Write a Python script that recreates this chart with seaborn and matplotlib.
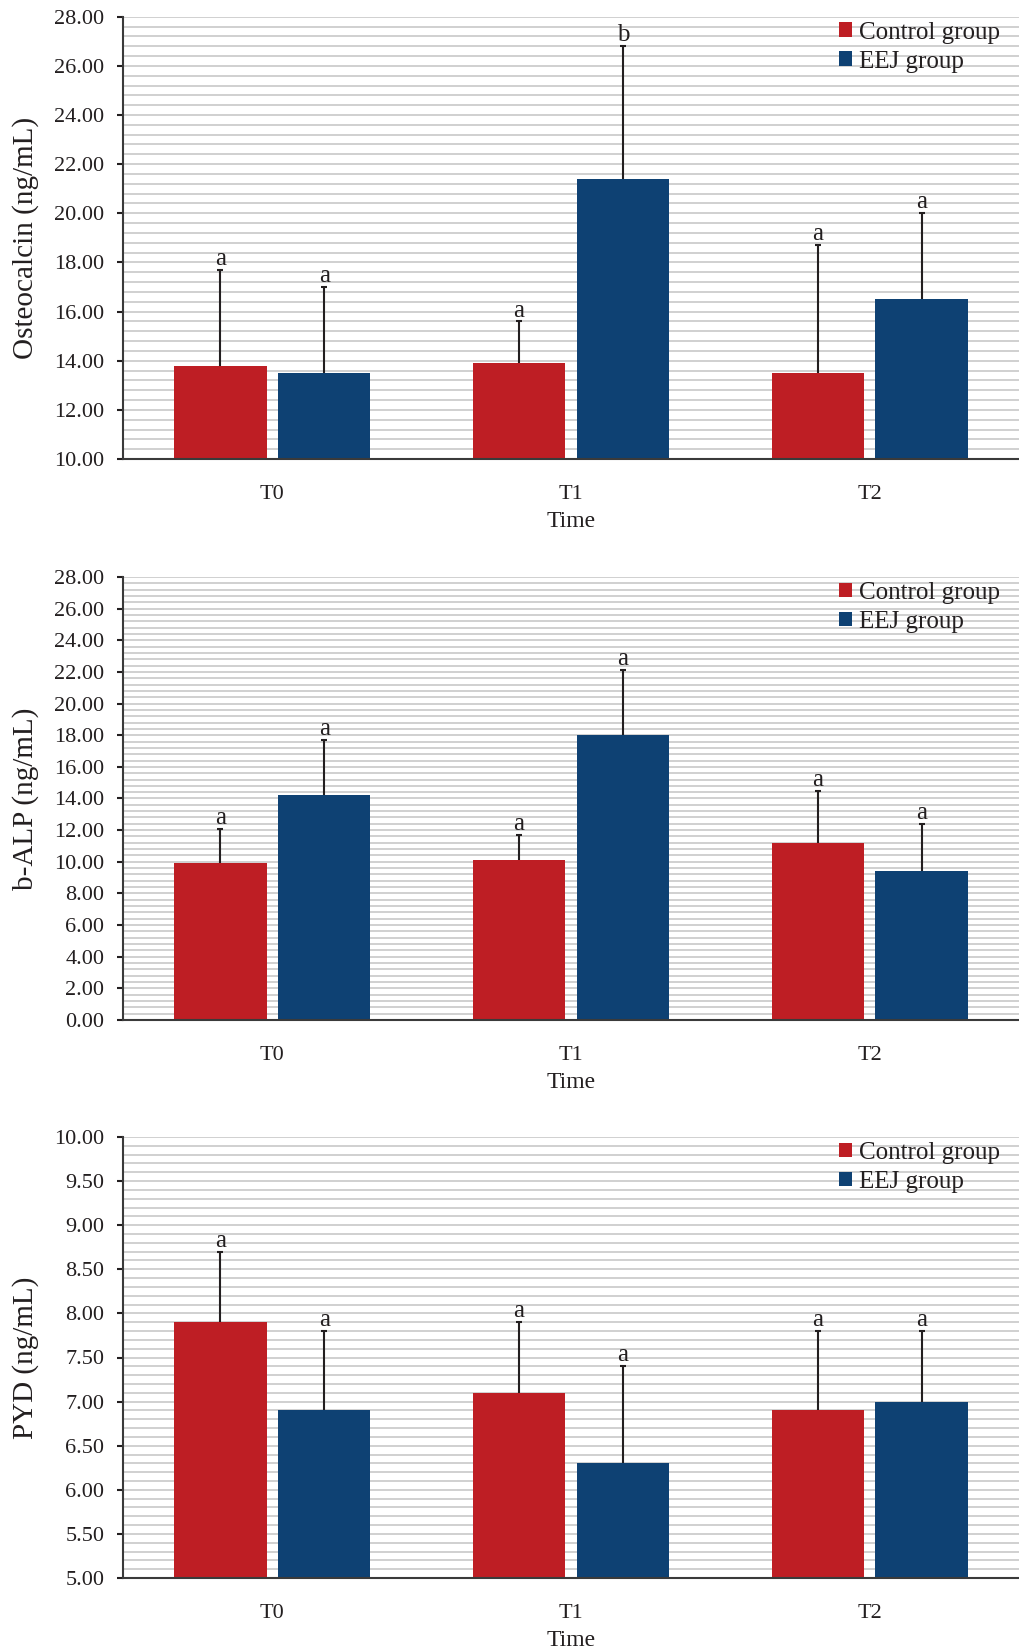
import matplotlib
matplotlib.use("Agg")
import matplotlib.pyplot as plt
from matplotlib.ticker import MultipleLocator, FormatStrFormatter
from matplotlib.patches import Patch
import pandas as pd
import seaborn as sns

# ---- data -------------------------------------------------------------
times = ["T0", "T1", "T2"]
groups = ["Control group", "EEJ group"]

osteocalcin_control = [13.8, 13.9, 13.5]
osteocalcin_eej = [13.5, 21.4, 16.5]
osteocalcin_control_sd = [3.9, 1.7, 5.2]
osteocalcin_eej_sd = [3.5, 5.4, 3.5]
osteocalcin_control_letters = ["a", "a", "a"]
osteocalcin_eej_letters = ["a", "b", "a"]

balp_control = [9.9, 10.1, 11.2]
balp_eej = [14.2, 18.0, 9.4]
balp_control_sd = [2.2, 1.6, 3.3]
balp_eej_sd = [3.5, 4.1, 3.0]
balp_control_letters = ["a", "a", "a"]
balp_eej_letters = ["a", "a", "a"]

pyd_control = [7.9, 7.1, 6.9]
pyd_eej = [6.9, 6.3, 7.0]
pyd_control_sd = [0.8, 0.8, 0.9]
pyd_eej_sd = [0.9, 1.1, 0.8]
pyd_control_letters = ["a", "a", "a"]
pyd_eej_letters = ["a", "a", "a"]

panels = [
    dict(ylabel="Osteocalcin (ng/mL)", ylim=(10, 28), major=2.0, minor=0.4,
         means=(osteocalcin_control, osteocalcin_eej),
         sds=(osteocalcin_control_sd, osteocalcin_eej_sd),
         letters=(osteocalcin_control_letters, osteocalcin_eej_letters)),
    dict(ylabel="b-ALP (ng/mL)", ylim=(0, 28), major=2.0, minor=0.4,
         means=(balp_control, balp_eej),
         sds=(balp_control_sd, balp_eej_sd),
         letters=(balp_control_letters, balp_eej_letters)),
    dict(ylabel="PYD (ng/mL)", ylim=(5, 10), major=0.5, minor=0.1,
         means=(pyd_control, pyd_eej),
         sds=(pyd_control_sd, pyd_eej_sd),
         letters=(pyd_control_letters, pyd_eej_letters)),
]

# ---- style ------------------------------------------------------------
RED = "#BE1E24"
BLUE = "#0E4173"
INK = "#231F20"
GRID = "#C4C4C4"
palette = {groups[0]: RED, groups[1]: BLUE}

sns.set_theme(style="white")
plt.rcParams["font.family"] = ["Liberation Serif", "DejaVu Serif"]
plt.rcParams["text.color"] = INK
plt.rcParams["axes.labelcolor"] = INK
plt.rcParams["xtick.color"] = INK
plt.rcParams["ytick.color"] = INK

fig = plt.figure(figsize=(10.2, 16.5), dpi=100)

# axes boxes in figure fractions: [left, bottom, width, height]
ax_left = 123 / 1020
ax_width = 896 / 1020
boxes = [
    (1 - 459 / 1650, (459 - 16.7) / 1650),
    (1 - 1020 / 1650, (1020 - 577) / 1650),
    (1 - 1578 / 1650, (1578 - 1137) / 1650),
]

for spec, (bottom, height) in zip(panels, boxes):
    ax = fig.add_axes([ax_left, bottom, ax_width, height])

    df = pd.DataFrame({
        "Time": times * 2,
        "Group": [groups[0]] * 3 + [groups[1]] * 3,
        "Value": list(spec["means"][0]) + list(spec["means"][1]),
    })
    sns.barplot(data=df, x="Time", y="Value", hue="Group",
                order=times, hue_order=groups, palette=palette,
                width=0.695, gap=0.11, errorbar=None, legend=False,
                saturation=1, linewidth=0, ax=ax)

    # upper-only SD bars with significance letters
    for container, sds, letters in zip(ax.containers, spec["sds"], spec["letters"]):
        for bar, sd, letter in zip(container, sds, letters):
            xc = bar.get_x() + bar.get_width() / 2
            top = bar.get_height() + bar.get_y()
            eb = ax.errorbar([xc], [top], yerr=[[0], [sd]], fmt="none",
                             ecolor=INK, elinewidth=1.5, capsize=2.2,
                             capthick=1.5, zorder=3)
            # keep only the upper cap
            eb.lines[1][0].set_visible(False)
            ax.annotate(letter, xy=(xc, top + sd), xytext=(0, 3.5),
                        textcoords="offset points", ha="center",
                        va="baseline", fontsize=18, color=INK)

    ax.set_ylim(*spec["ylim"])
    ax.set_xlim(-0.5, 2.5)
    ax.yaxis.set_major_locator(MultipleLocator(spec["major"]))
    ax.yaxis.set_minor_locator(MultipleLocator(spec["minor"]))
    ax.yaxis.set_major_formatter(FormatStrFormatter("%.2f"))
    ax.set_axisbelow(True)
    ax.grid(which="both", axis="y", color=GRID, linewidth=1.1)
    ax.grid(which="both", axis="x", visible=False)

    for side in ("top", "right"):
        ax.spines[side].set_visible(False)
    for side in ("left", "bottom"):
        ax.spines[side].set_color("#3A3A3A")
        ax.spines[side].set_linewidth(1.5)

    ax.tick_params(axis="y", which="major", direction="out", length=4.5,
                   width=1.5, pad=9, labelsize=16, left=True)
    ax.tick_params(axis="y", which="minor", length=0)
    ax.tick_params(axis="x", length=0, pad=18.5, labelsize=16)

    ax.set_xlabel("Time", fontsize=17, labelpad=5)
    ax.set_ylabel(spec["ylabel"], fontsize=21)
    ax.yaxis.set_label_coords(-0.0937, 0.5)

    handles = [Patch(facecolor=palette[g], edgecolor="none", label=g) for g in groups]
    ax.legend(handles=handles, loc="upper left", bbox_to_anchor=(0.799, 0.989),
              frameon=False, fontsize=18, handlelength=0.51, handleheight=0.51,
              handletextpad=0.3, labelspacing=0.28, borderpad=0,
              borderaxespad=0)

fig.savefig("out.png", dpi=100)
